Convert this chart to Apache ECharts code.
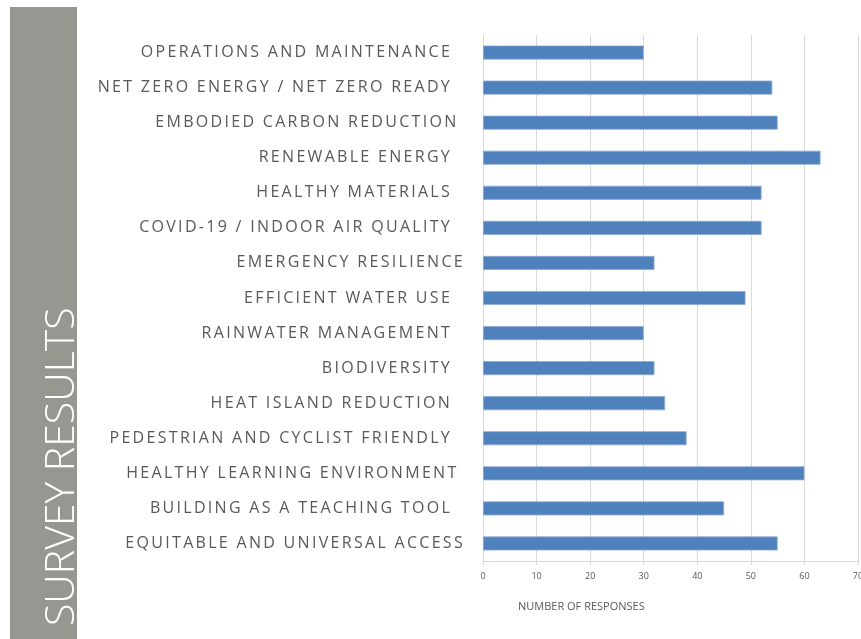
<!DOCTYPE html>
<html><head><meta charset="utf-8">
<script src="https://cdn.jsdelivr.net/npm/echarts@6/dist/echarts.min.js"></script>
<style>html,body{margin:0;padding:0;background:#fff;overflow:hidden}#c{width:861px;height:639px}</style>
</head><body><div id="c"></div>
<script>
const categories = [
  "OPERATIONS AND MAINTENANCE  ",
  "NET ZERO ENERGY / NET ZERO READY  ",
  "EMBODIED CARBON REDUCTION ",
  "RENEWABLE ENERGY  ",
  "HEALTHY MATERIALS  ",
  "COVID-19 / INDOOR AIR QUALITY  ",
  "EMERGENCY RESILIENCE",
  "EFFICIENT WATER USE  ",
  "RAINWATER MANAGEMENT  ",
  "BIODIVERSITY  ",
  "HEAT ISLAND REDUCTION  ",
  "PEDESTRIAN AND CYCLIST FRIENDLY  ",
  "HEALTHY LEARNING ENVIRONMENT ",
  "BUILDING AS A TEACHING TOOL  ",
  "EQUITABLE AND UNIVERSAL ACCESS"
];
const responses = [30, 54, 55, 63, 52, 52, 32, 49, 30, 32, 34, 38, 60, 45, 55];
const xTicks = [0, 10, 20, 30, 40, 50, 60, 70];
const sideTitle = "SURVEY RESULTS";
const axisTitle = "NUMBER OF RESPONSES";

// letter spacing for the category labels (16px text) on canvas
(function () {
  const proto = CanvasRenderingContext2D.prototype;
  const orig = proto.fillText;
  proto.fillText = function (t, x, y, m) {
    try { this.letterSpacing = /(^|\s)16px/.test(this.font) ? '2.3px' : '0px'; } catch (e) {}
    return m === undefined ? orig.call(this, t, x, y) : orig.call(this, t, x, y, m);
  };
})();

const chart = echarts.init(document.getElementById('c'), null, {renderer: 'canvas'});
chart.setOption({
  animation: false,
  grid: {left: 483, width: 375, top: 35, bottom: 78, containLabel: false, outerBoundsMode: 'none'},
  xAxis: {
    type: 'value', min: xTicks[0], max: xTicks[xTicks.length - 1], interval: 10,
    axisLine: {show: true, lineStyle: {color: '#d9d9d9'}},
    axisTick: {show: true, length: 4, lineStyle: {color: '#d9d9d9'}},
    splitLine: {show: true, lineStyle: {color: '#d9d9d9', width: 1}},
    axisLabel: {color: '#595959', fontSize: 9, fontFamily: 'Open Sans', margin: 11, hideOverlap: false}
  },
  yAxis: {
    type: 'category', data: categories, inverse: true,
    axisLine: {show: true, lineStyle: {color: '#d9d9d9'}},
    axisTick: {show: false},
    axisLabel: {color: '#595959', fontSize: 16, fontFamily: 'Open Sans', margin: 18}
  },
  series: [{
    type: 'bar', data: responses, barWidth: 14,
    itemStyle: {color: '#4f81bd', borderColor: '#8eaad6', borderWidth: 0.8}
  }],
  graphic: [
    {type: 'rect', left: 10, top: 7, shape: {width: 67, height: 632}, style: {fill: '#979792'}},
    {type: 'text', x: 62, y: 626, rotation: Math.PI / 2,
     style: {text: sideTitle, fill: '#ffffff', fontSize: 41, fontFamily: 'Open Sans', fontWeight: 300,
             textVerticalAlign: 'middle', textAlign: 'left'}},
    {type: 'text', left: 518, top: 601,
     style: {text: axisTitle, fill: '#595959', fontSize: 11, fontFamily: 'Open Sans'}}
  ]
});
</script></body></html>
